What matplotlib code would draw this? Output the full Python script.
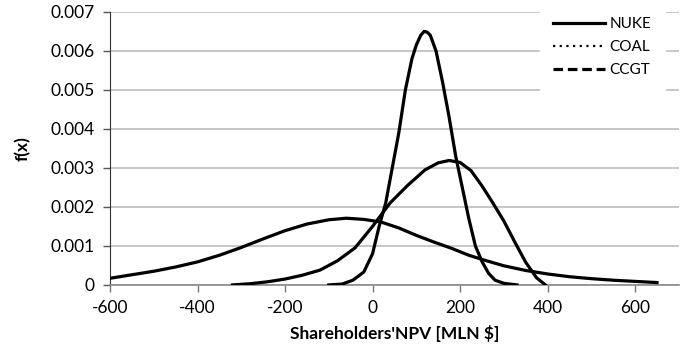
import matplotlib.pyplot as plt
from matplotlib.lines import Line2D

plt.rcParams['font.family'] = ['Lato', 'DejaVu Sans']

# density curves of shareholders' NPV (MLN $)
nuke_x = [-600, -550, -500, -450, -400, -350, -300, -250, -200, -150, -100, -60, -20,
          20, 60, 100, 140, 180, 220, 260, 300, 350, 400, 450, 500, 550, 600, 650]
nuke_y = [0.00017, 0.00026, 0.00035, 0.00046, 0.00059, 0.00076, 0.00096, 0.00118, 0.00139,
          0.00156, 0.00167, 0.00171, 0.00168, 0.00161, 0.00146, 0.00127, 0.00110, 0.00094,
          0.00076, 0.00062, 0.00049, 0.00037, 0.00028, 0.00021, 0.00016, 0.00012, 0.00009,
          0.00006]

coal_x = [-100, -70, -45, -20, 0, 15, 30, 45, 60, 75, 90, 100, 110, 118, 125, 132, 145,
          160, 175, 190, 205, 220, 235, 250, 265, 280, 300, 330]
coal_y = [0.0, 0.00002, 0.00012, 0.00033, 0.0008, 0.0015, 0.0021, 0.0030, 0.0039, 0.0050,
          0.0058, 0.00615, 0.0064, 0.0065, 0.00648, 0.0064, 0.0060, 0.0052, 0.0043, 0.0033,
          0.0025, 0.0017, 0.0010, 0.0006, 0.0003, 0.00012, 0.00004, 0.0]

ccgt_x = [-320, -280, -240, -200, -160, -120, -80, -40, 0, 40, 80, 120, 150, 175, 200, 225,
          250, 275, 300, 325, 350, 375, 395]
ccgt_y = [0.0, 0.00003, 0.00008, 0.00015, 0.00025, 0.00038, 0.00062, 0.00095, 0.00150,
          0.00210, 0.00255, 0.00295, 0.00313, 0.00319, 0.00314, 0.00293, 0.00254, 0.00210,
          0.00164, 0.00110, 0.00058, 0.00018, 0.0]

series_names = ['NUKE', 'COAL', 'CCGT']
x_ticks = [-600, -400, -200, 0, 200, 400, 600]
y_ticks = [0, 0.001, 0.002, 0.003, 0.004, 0.005, 0.006, 0.007]
y_labels = ['0', '0.001', '0.002', '0.003', '0.004', '0.005', '0.006', '0.007']

fig = plt.figure(figsize=(6.92, 3.5), dpi=100)
ax = fig.add_axes([0.159, 0.186, 0.822, 0.780])

for xs, ys in [(nuke_x, nuke_y), (coal_x, coal_y), (ccgt_x, ccgt_y)]:
    ax.plot(xs, ys, color='black', linewidth=2.3, solid_joinstyle='round', zorder=3)

ax.set_xlim(-600, 700)
ax.set_ylim(0, 0.007)
ax.set_xticks(x_ticks)
ax.set_xticklabels([str(t) for t in x_ticks])
ax.set_yticks(y_ticks)
ax.set_yticklabels(y_labels)
ax.tick_params(labelsize=12.5, length=5, width=1, color='#555555', pad=6)
ax.tick_params(axis='x', colors='#777777', labelcolor='black')

ax.yaxis.grid(True, color='#bdbdbd', linewidth=1.2)
ax.set_axisbelow(True)
for s in ['top', 'right']:
    ax.spines[s].set_visible(False)
ax.spines['left'].set_color('#333333')
ax.spines['bottom'].set_color('#8a8a8a')
ax.spines['bottom'].set_linewidth(1.2)

ax.set_xlabel("Shareholders'NPV [MLN $]", fontsize=12.5, fontweight='bold', labelpad=6)
ax.set_ylabel('f(x)', fontsize=12.5, fontweight='bold', labelpad=14)

handles = [Line2D([], [], color='black', linewidth=2.3, linestyle='-'),
           Line2D([], [], color='black', linewidth=1.6, linestyle=(0, (1, 2))),
           Line2D([], [], color='black', linewidth=2.3, linestyle=(0, (3, 1.5)))]
leg = ax.legend(handles, series_names, loc='upper right', bbox_to_anchor=(0.975, 1.03),
                frameon=True, fontsize=11, handlelength=3.4, handletextpad=0.25,
                labelspacing=0.58, borderpad=0.9, borderaxespad=0)
leg.get_frame().set_edgecolor('white')
leg.get_frame().set_facecolor('white')
leg.get_frame().set_alpha(1)
leg.get_frame().set_boxstyle('square', pad=0)

fig.savefig('out.png', dpi=100)
